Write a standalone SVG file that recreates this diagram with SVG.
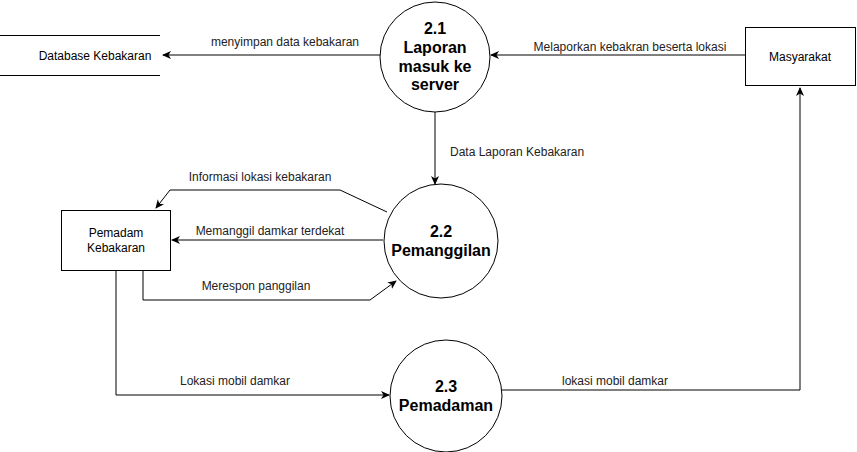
<svg xmlns="http://www.w3.org/2000/svg" width="857" height="452" viewBox="0 0 857 452">
<style>
.s{fill:none;stroke:#000;stroke-width:1}
.n{fill:#fff;stroke:#000;stroke-width:1}
.t{font-family:"Liberation Sans",Arial,sans-serif;font-size:12px;fill:#000;text-anchor:middle}
.e{font-family:"Liberation Sans",Arial,sans-serif;font-size:12px;fill:#222;text-anchor:middle}
.b{font-family:"Liberation Sans",Arial,sans-serif;font-size:16px;font-weight:bold;fill:#000;text-anchor:middle}
</style>
<defs>
<marker id="a" markerWidth="10" markerHeight="10" refX="8" refY="5" orient="auto" markerUnits="userSpaceOnUse">
<path d="M0,1 L9,5 L0,9 L2.5,5 Z" fill="#000"/>
</marker>
</defs>
<rect width="857" height="452" fill="#fff"/>
<g id="connectors">
<path class="s" d="M380,55 L163,55" marker-end="url(#a)"/>
<text class="e" x="285" y="46">menyimpan data kebakaran</text>
<path class="s" d="M745,55 L491,55" marker-end="url(#a)"/>
<text class="e" x="630" y="51">Melaporkan kebakran beserta lokasi</text>
<path class="s" d="M435,112 L435,184" marker-end="url(#a)"/>
<text class="e" x="450" y="156" style="text-anchor:start">Data Laporan Kebakaran</text>
<path class="s" d="M387,212 L340,190 L170,190 L156,208" marker-end="url(#a)"/>
<text class="e" x="260" y="181">Informasi lokasi kebakaran</text>
<path class="s" d="M383,240 L172,240" marker-end="url(#a)"/>
<text class="e" x="270" y="235">Memanggil damkar terdekat</text>
<path class="s" d="M143,270 L143,300 L370,300 L396,281" marker-end="url(#a)"/>
<text class="e" x="256" y="290">Merespon panggilan</text>
<path class="s" d="M116,270 L116,395 L389,395" marker-end="url(#a)"/>
<text class="e" x="235" y="385">Lokasi mobil damkar</text>
<path class="s" d="M502,390 L800,390 L800,88" marker-end="url(#a)"/>
<text class="e" x="615" y="385">lokasi mobil damkar</text>
</g>
<g id="database">
<line class="s" x1="0" y1="35.5" x2="160" y2="35.5"/>
<line class="s" x1="0" y1="75.5" x2="160" y2="75.5"/>
<text class="t" x="95" y="60">Database Kebakaran</text>
</g>
<g id="masyarakat">
<rect class="n" x="745.5" y="27.5" width="110" height="58"/>
<text class="t" x="800" y="61">Masyarakat</text>
</g>
<g id="pemadam">
<rect class="n" x="61.5" y="210.5" width="109" height="60"/>
<text class="t" x="116" y="237">Pemadam</text>
<text class="t" x="116" y="252">Kebakaran</text>
</g>
<g id="p21">
<circle class="n" cx="435" cy="57" r="55"/>
<text class="b" x="435" y="34">2.1</text>
<text class="b" x="435" y="53">Laporan</text>
<text class="b" x="435" y="72">masuk ke</text>
<text class="b" x="435" y="90">server</text>
</g>
<g id="p22">
<circle class="n" cx="441" cy="241" r="57"/>
<text class="b" x="441" y="237">2.2</text>
<text class="b" x="441" y="256">Pemanggilan</text>
</g>
<g id="p23">
<circle class="n" cx="446" cy="396" r="56"/>
<text class="b" x="446" y="392">2.3</text>
<text class="b" x="446" y="411">Pemadaman</text>
</g>
</svg>
